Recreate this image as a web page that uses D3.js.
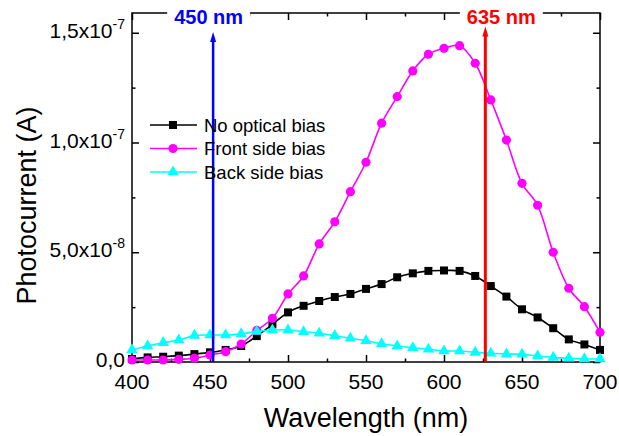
<!DOCTYPE html>
<html>
<head>
<meta charset="utf-8">
<script src="https://cdn.jsdelivr.net/npm/d3@7"></script>
<style>
  body { margin: 0; background: #fff; }
  text { font-family: "Liberation Sans", Arial, sans-serif; fill: #000; }
</style>
</head>
<body>
<svg width="619" height="436"></svg>
<script>
// wavelength (nm)
const wavelengths = [400, 410, 420, 430, 440, 450, 460, 470, 480, 490, 500, 510, 520, 530, 540, 550,
                     560, 570, 580, 590, 600, 610, 620, 630, 640, 650, 660, 670, 680, 690, 700];
// photocurrent (A), values in 1e-9
const noBias = [1.4, 2.1, 2.4, 2.9, 3.6, 4.4, 5.5, 7.3, 11.8, 17.1, 22.6, 25.6, 27.8, 29.6, 31.0, 33.3,
                35.5, 38.6, 40.4, 41.5, 41.7, 41.5, 39.2, 34.6, 29.8, 24.0, 20.3, 15.4, 10.3, 8.0, 5.5];
const frontBias = [0.9, 0.9, 0.9, 1.2, 1.7, 3.2, 4.7, 8.2, 14.4, 19.9, 31.0, 39.2, 53.8, 63.9, 77.6, 91.0,
                   108.8, 120.9, 132.6, 140.2, 142.9, 144.1, 136.1, 119.4, 101.1, 81.4, 71.4, 50.0, 33.6, 25.2, 13.5];
const backBias = [5.5, 7.3, 8.8, 10.0, 12.1, 12.3, 12.3, 12.8, 13.9, 14.6, 14.6, 13.8, 13.1, 12.0, 10.8, 9.7,
                  8.3, 7.3, 6.5, 5.8, 5.0, 5.0, 4.4, 4.0, 3.6, 3.5, 2.7, 2.1, 1.7, 1.4, 1.4];

const seriesNames = ["No optical bias", "Front side bias", "Back side bias"];
const seriesColors = ["#000000", "#ff00ff", "#00ffff"];

const xTicks = [400, 450, 500, 550, 600, 650, 700];
const xMinorTicks = [425, 475, 525, 575, 625, 675];
const yTicks = [0, 5e-8, 1e-7, 1.5e-7];
const yMinorTicks = [2.5e-8, 7.5e-8, 1.25e-7];
const yTickText = ["0,0", "5,0x10", "1,0x10", "1,5x10"];
const yTickExp = ["", "-8", "-7", "-7"];

// excitation arrows
const arrowNm = [452, 626.5];
const arrowTop = [1.503e-7, 1.528e-7];
const arrowLabels = ["450 nm", "635 nm"];
const arrowColors = ["#0000ff", "#ff0000"];

const svg = d3.select("svg");
const pLeft = 132, pRight = 600, pTop = 13, pBottom = 362;

const x = d3.scaleLinear().domain([400, 700]).range([pLeft, pRight]);
const y = d3.scaleLinear().domain([0, 1.59e-7]).range([pBottom, pTop]);

// axes, ticks pointing inward
function ticks(axis, vals, size, tr) {
  const g = svg.append("g").attr("transform", tr)
    .call(axis.tickValues(vals).tickSize(size).tickFormat(""));
  g.select(".domain").remove();
  g.selectAll("line").attr("stroke", "#000").attr("stroke-width", 1.5);
  return g;
}
ticks(d3.axisBottom(x), xTicks, -7, `translate(0,${pBottom})`);
ticks(d3.axisBottom(x), xMinorTicks, -3.5, `translate(0,${pBottom})`);
ticks(d3.axisTop(x), xTicks, -7, `translate(0,${pTop})`);
ticks(d3.axisTop(x), xMinorTicks, -3.5, `translate(0,${pTop})`);
ticks(d3.axisLeft(y), yTicks, -7, `translate(${pLeft},0)`);
ticks(d3.axisLeft(y), yMinorTicks, -3.5, `translate(${pLeft},0)`);
ticks(d3.axisRight(y), yTicks, -7, `translate(${pRight},0)`);
ticks(d3.axisRight(y), yMinorTicks, -3.5, `translate(${pRight},0)`);

svg.append("rect")
  .attr("x", pLeft).attr("y", pTop)
  .attr("width", pRight - pLeft).attr("height", pBottom - pTop)
  .attr("fill", "none").attr("stroke", "#000").attr("stroke-width", 1.5);

// x tick labels
svg.append("g").selectAll("text")
  .data(xTicks).join("text")
  .attr("x", d => x(d)).attr("y", pBottom + 26.5)
  .attr("text-anchor", "middle").attr("font-size", 21)
  .text(d => d);

// y tick labels with exponent
const yl = svg.append("g").selectAll("text")
  .data(yTicks).join("text")
  .attr("x", 125).attr("y", d => y(d) + 5)
  .attr("text-anchor", "end").attr("font-size", 21);
yl.append("tspan").text((d, i) => yTickText[i]);
yl.append("tspan").attr("font-size", 14).attr("dy", -9).text((d, i) => yTickExp[i]);

// axis titles
svg.append("text")
  .attr("x", (pLeft + pRight) / 2).attr("y", 427)
  .attr("text-anchor", "middle").attr("font-size", 27)
  .text("Wavelength (nm)");
svg.append("text")
  .attr("transform", `translate(36,${(pTop + pBottom) / 2 + 18}) rotate(-90)`)
  .attr("text-anchor", "middle").attr("font-size", 27)
  .text("Photocurrent (A)");

// series
const series = [noBias, frontBias, backBias];
const symbols = [d3.symbol(d3.symbolSquare, 64), d3.symbol(d3.symbolCircle, 66), d3.symbol(d3.symbolTriangle, 56)];
const line = d3.line()
  .x((d, i) => x(wavelengths[i]))
  .y(d => y(d * 1e-9))
  .curve(d3.curveCatmullRom.alpha(0.5));

series.forEach((vals, k) => {
  svg.append("path")
    .datum(vals)
    .attr("d", line)
    .attr("fill", "none")
    .attr("stroke", seriesColors[k])
    .attr("stroke-width", 1.6);
  svg.append("g").selectAll("path")
    .data(vals).join("path")
    .attr("d", symbols[k])
    .attr("transform", (d, i) => `translate(${x(wavelengths[i])},${y(d * 1e-9)})`)
    .attr("fill", seriesColors[k]);
});

// arrows + labels
arrowNm.forEach((nm, i) => {
  const ax = x(nm), ay = y(arrowTop[i]);
  const g = svg.append("g");
  g.append("line")
    .attr("x1", ax).attr("x2", ax)
    .attr("y1", pBottom).attr("y2", ay + 9)
    .attr("stroke", arrowColors[i]).attr("stroke-width", i === 0 ? 2.5 : 3);
  g.append("path")
    .attr("d", `M${ax},${ay}L${ax - 3},${ay + 10}L${ax + 3},${ay + 10}Z`)
    .attr("fill", arrowColors[i]);

  const cx = i === 0 ? ax - 4.5 : ax + 16;
  const bg = svg.append("rect").attr("fill", "#fff");
  const t = svg.append("text")
    .attr("x", cx).attr("y", 23.5)
    .attr("text-anchor", "middle")
    .attr("font-size", 20).attr("font-weight", "bold")
    .style("fill", arrowColors[i])
    .text(arrowLabels[i]);
  const bb = t.node().getBBox();
  bg.attr("x", bb.x - 7).attr("y", pTop - 4)
    .attr("width", bb.width + 14).attr("height", 25 - pTop);
});

// legend
const legend = svg.append("g");
seriesNames.forEach((name, k) => {
  const ly = 125 + k * 23.5;
  legend.append("line")
    .attr("x1", 150).attr("x2", 197).attr("y1", ly).attr("y2", ly)
    .attr("stroke", seriesColors[k]).attr("stroke-width", 1.6);
  legend.append("path")
    .attr("d", symbols[k])
    .attr("transform", `translate(173,${ly})`)
    .attr("fill", seriesColors[k]);
  legend.append("text")
    .attr("x", 204).attr("y", ly + 6.5)
    .attr("font-size", 18.5)
    .text(name);
});
</script>
</body>
</html>
